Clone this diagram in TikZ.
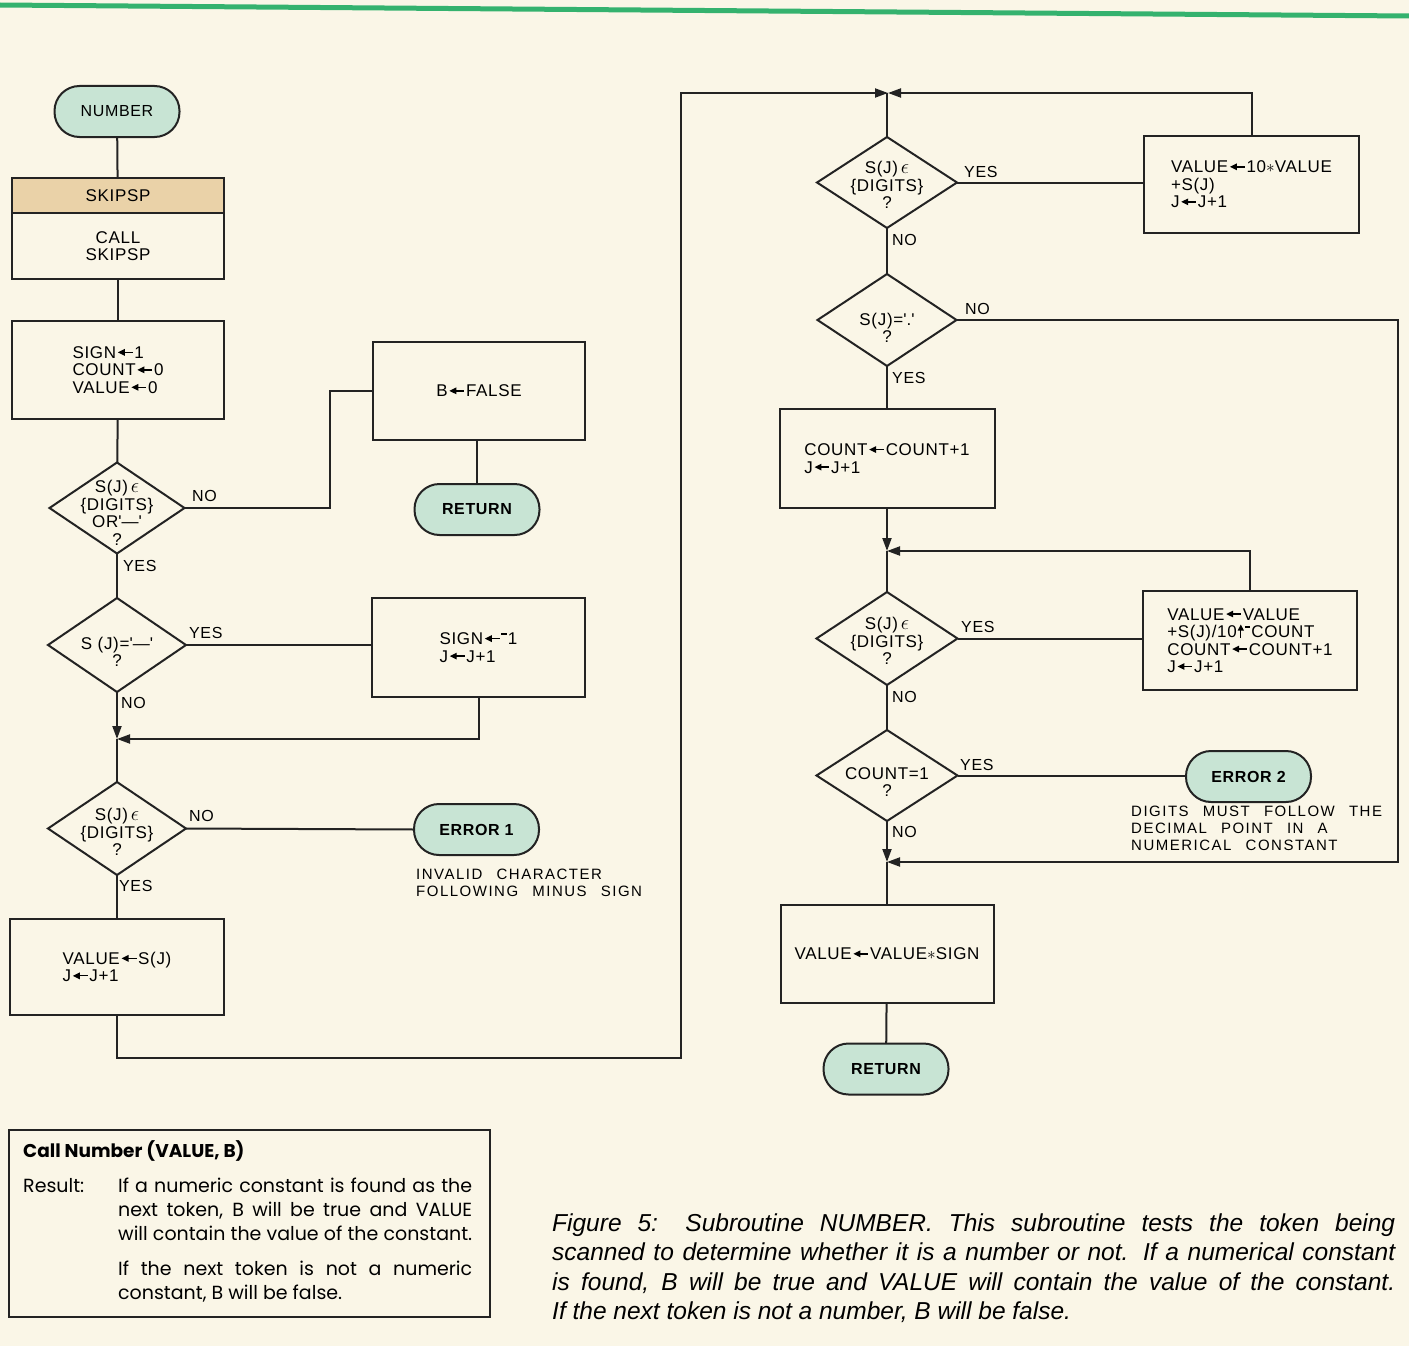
\documentclass[tikz,border=0pt]{standalone}
\usepackage{fontspec}
\setmainfont{Liberation Sans}
\newfontfamily\cf[LetterSpace=4]{Liberation Sans}
\newfontfamily\nf[LetterSpace=10,WordSpace=2.5]{Liberation Sans}
\newfontfamily\legf{Poppins}
\newfontfamily\capf{Liberation Sans}
\usetikzlibrary{shapes.geometric,arrows.meta}
\definecolor{bg}{RGB}{250,246,231}
\definecolor{edge}{RGB}{35,35,35}
\definecolor{termfill}{RGB}{200,228,212}
\definecolor{tanfill}{RGB}{234,210,168}
\definecolor{topgreen}{RGB}{52,178,110}
\newcommand\lar{\kern1pt\tikz[x=1pt,y=1pt,baseline={(0pt,-6pt)}]\draw[line width=1.3pt,{Triangle[length=7pt,width=6.5pt]}-](0pt,0pt)--(15pt,0pt);\kern1pt}
\newcommand\uar{\kern1pt\tikz[x=1pt,y=1pt,baseline={(0pt,0pt)}]\draw[line width=1.3pt,-{Triangle[length=6pt,width=6pt]}](0pt,0pt)--(0pt,13pt);\kern1pt}
\newcommand\rmin{\raisebox{10pt}{\rule{5.5pt}{1.3pt}}\kern1pt}
\newcommand\elem{\,{\fontsize{21}{21}\selectfont$\epsilon$}}
\tikzset{
  line/.style={draw=edge,line width=2pt},
  tip/.style={-{Triangle[length=13pt,width=9pt]}},
  box/.style={draw=edge,line width=2pt,rectangle,inner sep=0pt,outer sep=0pt,align=left,
    font=\cf\fontsize{17}{17.5}\selectfont},
  term/.style={draw=edge,line width=2pt,fill=termfill,rounded corners=25pt,inner sep=0pt,outer sep=0pt,
    minimum width=125pt,minimum height=51pt,font=\cf\bfseries\fontsize{16}{17}\selectfont},
  dia/.style={draw=edge,line width=2pt,diamond,inner sep=0pt,outer sep=0pt},
  ctext/.style={align=center,inner sep=0pt,font=\cf\fontsize{17}{17.5}\selectfont},
  yn/.style={anchor=west,inner sep=0pt,font=\cf\fontsize{16}{17}\selectfont},
  note/.style={anchor=north west,inner sep=0pt,align=left,font=\nf\fontsize{15}{17}\selectfont},
}
\begin{document}
\begin{tikzpicture}[x=1pt,y=-1pt]
\fill[bg] (0,0) rectangle (1409,1346);
\useasboundingbox (0,0) rectangle (1409,1346);
\draw[topgreen,line width=5pt] (0,5) -- (1409,16);

% ---------------- left column ----------------
\node[term,font=\cf\fontsize{16}{17}\selectfont] (num) at (117,111.5) {NUMBER};
\node[box,minimum width=212pt,minimum height=101pt,
  path picture={\fill[tanfill] (path picture bounding box.north west) rectangle ([yshift=-35pt]path picture bounding box.north east);}]
  (skip) at (118,228.5) {};
\draw[line] ([yshift=-35pt]skip.north west) -- ([yshift=-35pt]skip.north east);
\node[ctext] (skiph) at (118,196) {SKIPSP};
\node[ctext] (skipb) at (118,246) {CALL\\SKIPSP};
\node[box,minimum width=212pt,minimum height=98pt] (init) at (118,370) {SIGN\lar 1\\COUNT\lar 0\\VALUE\lar 0};
\node[dia,minimum width=135pt,minimum height=91pt] (d1) at (117,508) {};
\node[ctext] (d1t) at (117,513) {S(J)\elem\\\{DIGITS\}\\OR\textquotesingle—\textquotesingle\\?};
\node[box,align=center,minimum width=212pt,minimum height=98pt] (bfalse) at (479,391) {B\lar FALSE};
\node[term] (ret1) at (477,509.5) {RETURN};
\node[dia,minimum width=138pt,minimum height=94pt] (d2) at (117,645) {};
\node[ctext] (d2t) at (117,652) {S (J)=\textquotesingle—\textquotesingle\\?};
\node[box,minimum width=213pt,minimum height=99pt] (signbox) at (478.5,647.5) {SIGN\lar\rmin 1\\J\lar J+1};
\coordinate (J1) at (117,739);
\node[dia,minimum width=138pt,minimum height=93pt] (d3) at (117,828.5) {};
\node[ctext] (d3t) at (117,832) {S(J)\elem\\\{DIGITS\}\\?};
\node[term] (err1) at (476.5,829.5) {ERROR 1};
\node[note] (note1) at (416,869) {INVALID CHARACTER\\FOLLOWING MINUS SIGN};
\node[box,minimum width=214pt,minimum height=96pt] (vbox) at (117,967) {VALUE\lar S(J)\\J\lar J+1};
\coordinate (c2) at (681,1058);
\coordinate (JT) at (888,93);

% ---------------- right column ----------------
\node[dia,minimum width=140pt,minimum height=91pt] (d4) at (887,182.5) {};
\node[ctext] (d4t) at (887,185) {S(J)\elem\\\{DIGITS\}\\?};
\node[box,minimum width=215pt,minimum height=97pt] (b4) at (1251.5,184.5) {VALUE\lar 10$\ast$VALUE\\+S(J)\\J\lar J+1};
\node[dia,minimum width=139pt,minimum height=92pt] (d5) at (887,320) {};
\node[ctext] (d5t) at (887,328) {S(J)=\textquotesingle.\textquotesingle\\?};
\node[box,minimum width=215pt,minimum height=99pt] (b5) at (887,458.5) {COUNT\lar COUNT+1\\J\lar J+1};
\coordinate (J2) at (887,551);
\node[dia,minimum width=141pt,minimum height=93pt] (d6) at (887,638.5) {};
\node[ctext] (d6t) at (887,641) {S(J)\elem\\\{DIGITS\}\\?};
\node[box,minimum width=214pt,minimum height=99pt] (b6) at (1250,640.5) {VALUE\lar VALUE\\+S(J)/10\uar\rmin COUNT\\COUNT\lar COUNT+1\\J\lar J+1};
\node[dia,minimum width=141pt,minimum height=91pt] (d7) at (887,775.5) {};
\node[ctext] (d7t) at (887,782) {COUNT=1\\?};
\node[term] (err2) at (1248.5,776.5) {ERROR 2};
\node[note] (note2) at (1131,806) {DIGITS MUST FOLLOW THE\\DECIMAL POINT IN A\\NUMERICAL CONSTANT};
\coordinate (J3) at (887,862);
\coordinate (R1) at (1398,320);
\coordinate (R2) at (1398,862);
\node[box,align=center,minimum width=213pt,minimum height=98pt] (b7) at (887,954) {VALUE\lar VALUE$\ast$SIGN};
\node[term] (ret2) at (886,1069) {RETURN};

% ---------------- connectors ----------------
\draw[line] (num) -- (skip);
\draw[line] (skip) -- (init);
\draw[line] (init) -- (d1);
\draw[line] (d1.east) -- (330,508) |- (bfalse.west);
\draw[line] (ret1.north |- bfalse.south) -- (ret1.north);
\draw[line] (d1) -- (d2);
\draw[line] (d2.east) -- (d2.east -| signbox.west);
\draw[line,tip] (signbox.south) |- (J1);
\draw[line,tip] (d2.south) -- (J1);
\draw[line] (J1) -- (d3.north);
\draw[line] (d3.east) -- (err1.west);
\draw[line] (d3) -- (vbox);
\draw[line,tip] (vbox.south) |- (c2) |- (JT);
\draw[line,tip] (b4.north) |- (JT);
\draw[line] (JT -| d4.north) -- (d4.north);
\draw[line] (d4.east) -- (d4.east -| b4.west);
\draw[line] (d4) -- (d5);
\draw[line,tip] (d5.east) -- (R1) -- (R2) -- (J3);
\draw[line] (d5) -- (b5);
\draw[line,tip] (b5.south) -- (J2);
\draw[line] (J2) -- (d6.north);
\draw[line,tip] (b6.north) |- (J2);
\draw[line] (d6.east) -- (d6.east -| b6.west);
\draw[line] (d6) -- (d7);
\draw[line] (d7.east) -- (d7.east -| err2.west);
\draw[line,tip] (d7.south) -- (J3);
\draw[line] (J3) -- (b7.north);
\draw[line] (b7) -- (ret2);

% ---------------- yes / no labels ----------------
\node[yn] (l1) at (192,496) {NO};
\node[yn] (l2) at (123,566) {YES};
\node[yn] (l3) at (189,633) {YES};
\node[yn] (l4) at (121,703) {NO};
\node[yn] (l5) at (189,816) {NO};
\node[yn] (l6) at (119,886) {YES};
\node[yn] (l7) at (964,172) {YES};
\node[yn] (l8) at (892,240) {NO};
\node[yn] (l9) at (965,309) {NO};
\node[yn] (l10) at (892,378) {YES};
\node[yn] (l11) at (961,627) {YES};
\node[yn] (l12) at (892,697) {NO};
\node[yn] (l13) at (960,765) {YES};
\node[yn] (l14) at (892,832) {NO};

% ---------------- legend ----------------
\node[draw=edge,line width=1.5pt,minimum width=481pt,minimum height=187pt,inner sep=0pt] (legend) at (249.5,1223.5) {};
\node[anchor=base west,inner sep=0pt,font=\legf\bfseries\fontsize{18.5}{24}\selectfont] (legtitle) at (23,1157) {Call Number (VALUE, B)};
\node[anchor=base west,inner sep=0pt,font=\legf\fontsize{19}{24}\selectfont] (legres) at (23,1192) {Result:};
\node[anchor=base west,inner sep=0pt,font=\legf\fontsize{19}{24}\selectfont] (legtext) at (118,1192)
 {\parbox[t]{354pt}{\makebox[354pt][s]{If a numeric constant is found as the}\\
 \makebox[354pt][s]{next token, B will be true and VALUE}\\
 \makebox[354pt][s]{will contain the value of the constant.}\\[11pt]
 \makebox[354pt][s]{If the next token is not a numeric}\\
 constant, B will be false.}};

% ---------------- caption ----------------
\node[anchor=base west,inner sep=0pt,font=\capf\itshape\fontsize{24.5}{29.5}\selectfont] (caption) at (552,1231)
 {\parbox[t]{843pt}{\makebox[843pt][s]{Figure 5: Subroutine NUMBER. This subroutine tests the token being}\\
 \makebox[843pt][s]{scanned to determine whether it is a number or not. If a numerical constant}\\
 \makebox[843pt][s]{is found, B will be true and VALUE will contain the value of the constant.}\\
 If the next token is not a number, B will be false.}};
\end{tikzpicture}
\end{document}
